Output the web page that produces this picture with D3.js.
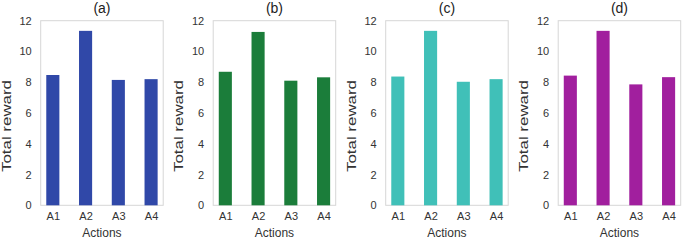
<!DOCTYPE html>
<html>
<head>
<meta charset="utf-8">
<script src="https://cdn.jsdelivr.net/npm/d3@7"></script>
<style>
  body { margin: 0; background: #fff; }
  svg { display: block; font-family: "Liberation Sans", Arial, sans-serif; }
  .axis text { fill: #333; font-size: 11px; }
  .title { fill: #222; font-size: 14px; }
  .axis-title { fill: #333; font-size: 12px; }
</style>
</head>
<body>
<div id="chart"></div>
<script>
const actions = ["A1", "A2", "A3", "A4"];
const panelTitles = ["(a)", "(b)", "(c)", "(d)"];
const colors = ["#3048a8", "#1b7d3a", "#40c0b8", "#a11f9e"];
const rewardsA = [8.47, 11.34, 8.15, 8.2];
const rewardsB = [8.68, 11.27, 8.1, 8.32];
const rewardsC = [8.37, 11.34, 8.03, 8.2];
const rewardsD = [8.43, 11.34, 7.86, 8.33];
const yTicks = [0, 2, 4, 6, 8, 10, 12];

const series = [rewardsA, rewardsB, rewardsC, rewardsD];

const width = 685;
const height = 241;
const margin = { top: 20.7, bottom: 205.3 };
const panelLeft = 40.7;
const panelStep = 172.5;
const panelWidth = 122.5;

const svg = d3
  .select("#chart")
  .append("svg")
  .attr("width", width)
  .attr("height", height);

const y = d3.scaleLinear().domain([0, 12]).range([margin.bottom, margin.top]);

series.forEach((values, i) => {
  const x0 = panelLeft + i * panelStep;
  const g = svg.append("g").attr("transform", `translate(${x0},0)`);

  // matplotlib-like: bar width 0.4, 5% x margins
  const x = d3
    .scaleLinear()
    .domain([-0.2 - 0.17, 3.2 + 0.17])
    .range([0, panelWidth]);

  g.append("rect")
    .attr("x", 0)
    .attr("y", margin.top)
    .attr("width", panelWidth)
    .attr("height", margin.bottom - margin.top)
    .attr("fill", "none")
    .attr("stroke", "#d6d6d6")
    .attr("stroke-width", 1);

  g.append("g")
    .selectAll("rect")
    .data(values)
    .join("rect")
    .attr("x", (d, j) => x(j - 0.2))
    .attr("width", x(0.4) - x(0))
    .attr("y", (d) => y(d))
    .attr("height", (d) => y(0) - y(d))
    .attr("fill", colors[i]);

  g.append("g")
    .attr("class", "axis")
    .call(d3.axisLeft(y).tickValues(yTicks).tickSize(0).tickPadding(9))
    .call((a) => a.select(".domain").remove());

  g.append("g")
    .attr("class", "axis")
    .attr("transform", `translate(0,${margin.bottom})`)
    .call(
      d3
        .axisBottom(x)
        .tickValues(d3.range(actions.length))
        .tickFormat((d) => actions[d])
        .tickSize(0)
        .tickPadding(7)
    )
    .call((a) => a.select(".domain").remove());

  g.append("text")
    .attr("class", "title")
    .attr("text-anchor", "middle")
    .attr("x", panelWidth / 2)
    .attr("y", 13)
    .text(panelTitles[i]);

  g.append("text")
    .attr("class", "axis-title")
    .attr("text-anchor", "middle")
    .attr("x", panelWidth / 2)
    .attr("y", 237)
    .text("Actions");

  // y label in the source is stretched and sits a bit low
  g.append("text")
    .attr("class", "axis-title")
    .attr("text-anchor", "middle")
    .attr("textLength", 92)
    .attr("lengthAdjust", "spacingAndGlyphs")
    .style("font-size", "12.5px")
    .attr("transform", `translate(-30,126)rotate(-90)`)
    .text("Total reward");
});
</script>
</body>
</html>
